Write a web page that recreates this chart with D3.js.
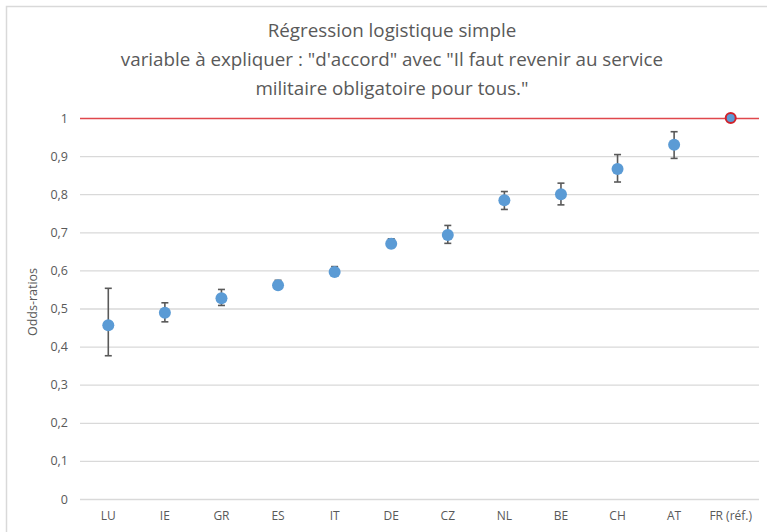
<!DOCTYPE html>
<html>
<head>
  <meta charset="utf-8">
  <script src="https://cdn.jsdelivr.net/npm/d3@7"></script>
<style type="text/css">
  body { margin: 0; background: #fff; }
  text { font-family: "Open Sans", sans-serif; }
</style>
</head>
<body>
<script>
  // pays et odds-ratios
  var pays = ["LU", "IE", "GR", "ES", "IT", "DE", "CZ", "NL", "BE", "CH", "AT", "FR (réf.)"];
  var oddsRatios = [0.456, 0.489, 0.527, 0.561, 0.596, 0.670, 0.693, 0.784, 0.800, 0.866, 0.930, 1];
  var icBas = [0.376, 0.465, 0.508, 0.553, 0.585, 0.660, 0.671, 0.760, 0.772, 0.832, 0.894, null];
  var icHaut = [0.553, 0.515, 0.550, 0.574, 0.610, 0.683, 0.718, 0.807, 0.829, 0.904, 0.964, null];
  var yTicks = [0, 0.1, 0.2, 0.3, 0.4, 0.5, 0.6, 0.7, 0.8, 0.9, 1];
  var titre = ["Régression logistique simple",
               "variable à expliquer : \"d'accord\" avec \"Il faut revenir au service",
               "militaire obligatoire pour tous.\""];

  var w = 767, h = 532;
  var mLeft = 80, mRight = 759, mTop = 118, mBottom = 499;

  var svg = d3.select("body").append("svg")
              .attr("width", w)
              .attr("height", h);

  // cadre du graphique
  svg.append("path")
     .attr("d", "M6.5," + h + "V6.5H" + w)
     .attr("fill", "none")
     .attr("stroke", "#d9d9d9")
     .attr("stroke-width", 1.5);

  var x = d3.scaleBand().domain(pays).range([mLeft, mRight]);
  var y = d3.scaleLinear().domain([0, 1]).range([mBottom, mTop]);

  // titre
  svg.append("g").selectAll("text")
     .data(titre)
     .enter()
     .append("text")
     .attr("x", 392)
     .attr("y", function (d, i) { return 37 + i * 29; })
     .attr("text-anchor", "middle")
     .attr("font-size", 18.8)
     .attr("fill", "#595959")
     .text(function (d) { return d; });

  // grille + axe y
  var yAxis = svg.append("g")
                 .attr("transform", "translate(" + mLeft + ",0)")
                 .call(d3.axisLeft(y).tickValues(yTicks).tickSize(-(mRight - mLeft)).tickPadding(12)
                         .tickFormat(function (d) { return d3.format(".1f")(d).replace(".", ",").replace(",0", ""); }));
  yAxis.select(".domain").remove();
  yAxis.selectAll(".tick line")
       .attr("stroke", function (d) { return d === 1 ? "#e0474c" : "#d9d9d9"; })
       .attr("stroke-width", function (d) { return d === 1 ? 1.5 : 1.3; });
  yAxis.selectAll(".tick text")
       .attr("font-size", 12.5)
       .attr("fill", "#595959");

  // axe x
  var xAxis = svg.append("g")
                 .attr("transform", "translate(0," + mBottom + ")")
                 .call(d3.axisBottom(x).tickSize(0).tickPadding(12));
  xAxis.select(".domain").remove();
  xAxis.selectAll(".tick text")
       .attr("font-size", 12)
       .attr("fill", "#595959");

  // titre axe y
  svg.append("text")
     .attr("transform", "translate(37,302) rotate(-90)")
     .attr("text-anchor", "middle")
     .attr("font-size", 12.5)
     .attr("fill", "#595959")
     .text("Odds-ratios");

  // barres d'erreur
  var idx = d3.range(pays.length).filter(function (i) { return icBas[i] !== null; });
  var eb = svg.append("g").attr("stroke", "#595959").attr("stroke-width", 1.6);
  idx.forEach(function (i) {
    var cx = x(pays[i]) + x.bandwidth() / 2;
    eb.append("line").attr("x1", cx).attr("x2", cx).attr("y1", y(icBas[i])).attr("y2", y(icHaut[i]));
    eb.append("line").attr("x1", cx - 3.5).attr("x2", cx + 3.5).attr("y1", y(icBas[i])).attr("y2", y(icBas[i]));
    eb.append("line").attr("x1", cx - 3.5).attr("x2", cx + 3.5).attr("y1", y(icHaut[i])).attr("y2", y(icHaut[i]));
  });

  // points
  svg.append("g").selectAll("circle")
     .data(pays)
     .enter()
     .append("circle")
     .attr("cx", function (d) { return x(d) + x.bandwidth() / 2; })
     .attr("cy", function (d, i) { return y(oddsRatios[i]); })
     .attr("r", function (d, i) { return i === pays.length - 1 ? 5 : 6; })
     .attr("fill", "#5b9bd5")
     .attr("stroke", function (d, i) { return i === pays.length - 1 ? "#d0222b" : "none"; })
     .attr("stroke-width", 2);
</script>
</body>
</html>
